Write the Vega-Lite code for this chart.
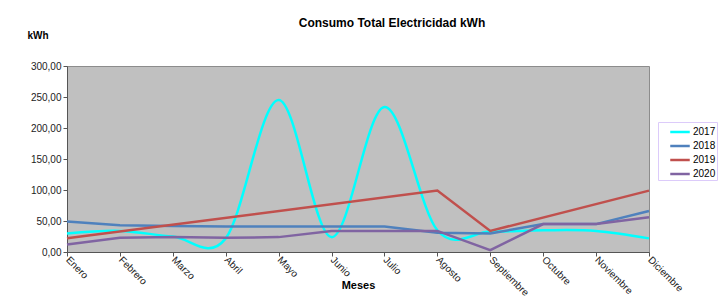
{
  "$schema": "https://vega.github.io/schema/vega-lite/v6.json",
  "width": 582,
  "height": 186,
  "autosize": "none",
  "padding": {"left": 67, "top": 66, "right": 74, "bottom": 52},
  "background": "white",
  "title": {
    "text": "Consumo  Total  Electricidad kWh",
    "fontSize": 12,
    "fontWeight": "bold",
    "font": "Liberation Sans",
    "color": "#000000",
    "anchor": "middle",
    "dx": 34,
    "offset": 0
  },
  "config": {
    "font": "Liberation Sans",
    "view": {"fill": "#c0c0c0", "stroke": "#8c8c8c", "strokeWidth": 1}
  },
  "data": {
    "values": [
      {"mes": "Enero", "orden": 1, "anio": "2017", "kwh": 30},
      {"mes": "Febrero", "orden": 2, "anio": "2017", "kwh": 34},
      {"mes": "Marzo", "orden": 3, "anio": "2017", "kwh": 25},
      {"mes": "Abril", "orden": 4, "anio": "2017", "kwh": 22},
      {"mes": "Mayo", "orden": 5, "anio": "2017", "kwh": 245},
      {"mes": "Junio", "orden": 6, "anio": "2017", "kwh": 24},
      {"mes": "Julio", "orden": 7, "anio": "2017", "kwh": 234},
      {"mes": "Agosto", "orden": 8, "anio": "2017", "kwh": 35},
      {"mes": "Septiembre", "orden": 9, "anio": "2017", "kwh": 33},
      {"mes": "Octubre", "orden": 10, "anio": "2017", "kwh": 35},
      {"mes": "Noviembre", "orden": 11, "anio": "2017", "kwh": 34},
      {"mes": "Diciembre", "orden": 12, "anio": "2017", "kwh": 22},
      {"mes": "Enero", "orden": 1, "anio": "2018", "kwh": 49},
      {"mes": "Febrero", "orden": 2, "anio": "2018", "kwh": 43},
      {"mes": "Marzo", "orden": 3, "anio": "2018", "kwh": 42},
      {"mes": "Abril", "orden": 4, "anio": "2018", "kwh": 41},
      {"mes": "Mayo", "orden": 5, "anio": "2018", "kwh": 41},
      {"mes": "Junio", "orden": 6, "anio": "2018", "kwh": 41},
      {"mes": "Julio", "orden": 7, "anio": "2018", "kwh": 41},
      {"mes": "Agosto", "orden": 8, "anio": "2018", "kwh": 31},
      {"mes": "Septiembre", "orden": 9, "anio": "2018", "kwh": 30},
      {"mes": "Octubre", "orden": 10, "anio": "2018", "kwh": 45},
      {"mes": "Noviembre", "orden": 11, "anio": "2018", "kwh": 45},
      {"mes": "Diciembre", "orden": 12, "anio": "2018", "kwh": 66},
      {"mes": "Enero", "orden": 1, "anio": "2019", "kwh": 22},
      {"mes": "Agosto", "orden": 8, "anio": "2019", "kwh": 99},
      {"mes": "Septiembre", "orden": 9, "anio": "2019", "kwh": 34},
      {"mes": "Diciembre", "orden": 12, "anio": "2019", "kwh": 99},
      {"mes": "Enero", "orden": 1, "anio": "2020", "kwh": 12},
      {"mes": "Febrero", "orden": 2, "anio": "2020", "kwh": 23},
      {"mes": "Marzo", "orden": 3, "anio": "2020", "kwh": 24},
      {"mes": "Abril", "orden": 4, "anio": "2020", "kwh": 23},
      {"mes": "Mayo", "orden": 5, "anio": "2020", "kwh": 24},
      {"mes": "Junio", "orden": 6, "anio": "2020", "kwh": 34},
      {"mes": "Julio", "orden": 7, "anio": "2020", "kwh": 34},
      {"mes": "Agosto", "orden": 8, "anio": "2020", "kwh": 34},
      {"mes": "Septiembre", "orden": 9, "anio": "2020", "kwh": 3},
      {"mes": "Octubre", "orden": 10, "anio": "2020", "kwh": 45},
      {"mes": "Noviembre", "orden": 11, "anio": "2020", "kwh": 45},
      {"mes": "Diciembre", "orden": 12, "anio": "2020", "kwh": 56}
    ]
  },
  "encoding": {
    "x": {
      "field": "mes",
      "type": "ordinal",
      "sort": ["Enero", "Febrero", "Marzo", "Abril", "Mayo", "Junio", "Julio", "Agosto", "Septiembre", "Octubre", "Noviembre", "Diciembre"],
      "scale": {"type": "point", "padding": 0, "domain": ["Enero", "Febrero", "Marzo", "Abril", "Mayo", "Junio", "Julio", "Agosto", "Septiembre", "Octubre", "Noviembre", "Diciembre"]},
      "axis": {
        "title": "Meses",
        "titleFontSize": 11,
        "titleFontWeight": "bold",
        "titleColor": "#000000",
        "titleY": 33,
        "titleBaseline": "middle",
        "labelAngle": 45,
        "labelAlign": "left",
        "labelBaseline": "middle",
        "labelFontSize": 10,
        "labelColor": "#222222",
        "labelPadding": 2,
        "tickSize": 4,
        "tickColor": "#555555",
        "domainColor": "#555555",
        "grid": false
      }
    },
    "y": {
      "field": "kwh",
      "type": "quantitative",
      "scale": {"domain": [0, 300], "nice": false},
      "axis": {
        "title": "kWh",
        "titleAngle": 0,
        "titleAlign": "left",
        "titleBaseline": "middle",
        "titleX": -40,
        "titleY": -31,
        "titleFontSize": 10,
        "titleFontWeight": "bold",
        "titleColor": "#000000",
        "values": [0, 50, 100, 150, 200, 250, 300],
        "labelExpr": "replace(format(datum.value, '.2f'), '.', ',')",
        "labelFontSize": 10,
        "labelColor": "#222222",
        "labelPadding": 2,
        "tickSize": 4,
        "tickColor": "#555555",
        "domainColor": "#555555",
        "grid": false
      }
    },
    "color": {
      "field": "anio",
      "type": "nominal",
      "scale": {"domain": ["2017", "2018", "2019", "2020"], "range": ["#00ffff", "#4f81bd", "#c0504d", "#8064a2"]},
      "legend": {
        "title": null,
        "orient": "none",
        "legendX": 591,
        "legendY": 56,
        "strokeColor": "#dccbfa",
        "fillColor": "#ffffff",
        "padding": 1,
        "symbolOffset": 12,
        "symbolType": "M-1.3,0H1.3",
        "symbolSize": 225,
        "symbolStrokeWidth": 2.5,
        "labelFontSize": 10,
        "labelColor": "#000000",
        "labelOffset": 4,
        "rowPadding": 0
      }
    },
    "order": {"field": "orden", "type": "quantitative"}
  },
  "layer": [
    {
      "transform": [{"filter": "datum.anio == '2017'"}],
      "mark": {"type": "line", "interpolate": "cardinal", "strokeWidth": 2.5}
    },
    {
      "transform": [{"filter": "datum.anio != '2017'"}],
      "mark": {"type": "line", "strokeWidth": 2.5}
    }
  ]
}
